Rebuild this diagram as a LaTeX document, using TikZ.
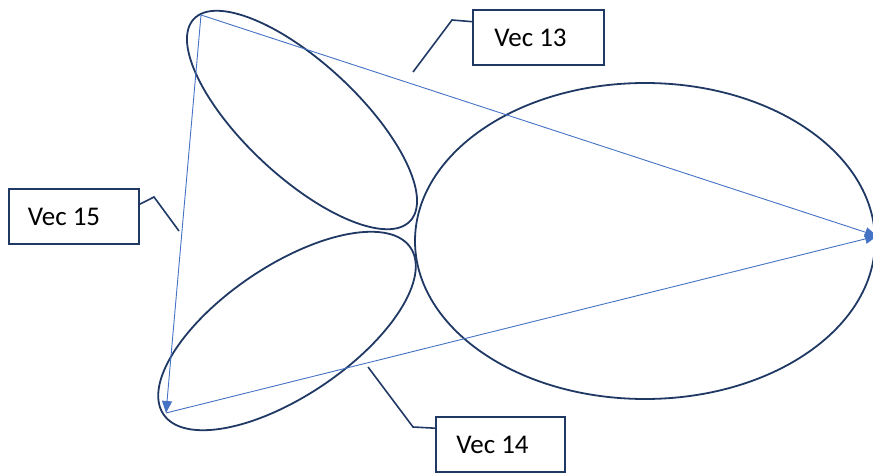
\documentclass[tikz,border=0pt]{standalone}
\usepackage{fontspec}
\setmainfont{Carlito}
\usetikzlibrary{arrows.meta}
\definecolor{navy}{HTML}{1F3864}
\definecolor{vecblue}{HTML}{4472C4}
\newcommand{\padright}[1]{\rule{#1}{0pt}}
\tikzset{
  lobe/.style={draw=navy, line width=1.8pt},
  vecline/.style={draw=vecblue, line width=0.9pt, -{Triangle[length=12pt,width=10pt]}},
  labelbox/.style={draw=navy, line width=1.6pt, rectangle, minimum height=55pt,
    inner sep=0pt, font=\fontsize{27}{32}\selectfont},
  leader/.style={draw=navy, line width=1.6pt},
}
\begin{document}
\begin{tikzpicture}[x=1pt, y=-1pt]
  \useasboundingbox (0,0) rectangle (873,473);
  \clip (0,0) rectangle (873,473);

  % three lobes
  \draw[lobe] (645,241) ellipse [x radius=230pt, y radius=158pt];
  \draw[lobe, shift={(302,120)}, rotate=-43] (0,0) ellipse [x radius=148pt, y radius=57pt];
  \draw[lobe, shift={(287,331)}, rotate=34] (0,0) ellipse [x radius=149pt, y radius=65pt];

  % vector end points
  \coordinate (A) at (201,15);
  \coordinate (B) at (166,413);
  \coordinate (C) at (877,236);

  \draw[vecline] (A) -- (C);
  \draw[vecline] (B) -- (C);
  \draw[vecline] (A) -- (B);

  % labels
  \node[labelbox, minimum width=131pt] (v13) at (538.5,37.5) {Vec 13\padright{16pt}};
  \node[labelbox, minimum width=130pt] (v15) at (74,216.5) {Vec 15\padright{20pt}};
  \node[labelbox, minimum width=129pt] (v14) at (500.5,444.5) {Vec 14\padright{16pt}};

  % leader lines
  \coordinate (l13a) at (413,72);
  \coordinate (l13b) at (452,20);
  \coordinate (l15a) at (179,231);
  \coordinate (l15b) at (154,197);
  \coordinate (l14a) at (368,367);
  \coordinate (l14b) at (413,427);

  \draw[leader] (l13a) -- (l13b) -- ([yshift=-12.5pt]v13.north west);
  \draw[leader] (l15a) -- (l15b) -- ([yshift=-16pt]v15.north east);
  \draw[leader] (l14a) -- (l14b) -- ([yshift=-12pt]v14.north west);
\end{tikzpicture}
\end{document}
